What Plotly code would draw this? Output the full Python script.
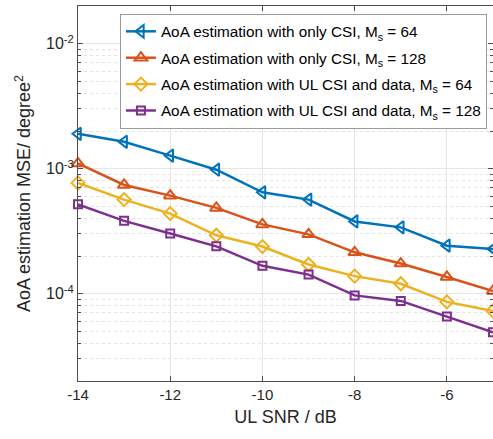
import plotly.graph_objects as go

snr = [-14, -13, -12, -11, -10, -9, -8, -7, -6, -5]
csi_64 = [1.90e-3, 1.64e-3, 1.27e-3, 9.8e-4, 6.46e-4, 5.65e-4, 3.78e-4, 3.39e-4, 2.42e-4, 2.28e-4]
csi_128 = [1.10e-3, 7.4e-4, 6.08e-4, 4.85e-4, 3.58e-4, 2.98e-4, 2.14e-4, 1.74e-4, 1.36e-4, 1.05e-4]
data_64 = [7.69e-4, 5.65e-4, 4.37e-4, 2.93e-4, 2.38e-4, 1.71e-4, 1.38e-4, 1.20e-4, 8.59e-5, 7.27e-5]
data_128 = [5.18e-4, 3.82e-4, 3.03e-4, 2.39e-4, 1.67e-4, 1.42e-4, 9.68e-5, 8.74e-5, 6.55e-5, 4.9e-5]

names = [
    "AoA estimation with only CSI, M<sub>s</sub> = 64",
    "AoA estimation with only CSI, M<sub>s</sub> = 128",
    "AoA estimation with UL CSI and data, M<sub>s</sub> = 64",
    "AoA estimation with UL CSI and data, M<sub>s</sub> = 128",
]
series = [csi_64, csi_128, data_64, data_128]
colors = ["#0072BD", "#D95319", "#EDB120", "#7E2F8E"]
symbols = ["triangle-left-open", "triangle-up-open", "diamond-open", "square-open"]
sizes = [11, 11, 10, 8]

ytickvals = [1e-4, 1e-3, 1e-2]
yticktext = ["10<sup>-4</sup>", "10<sup>-3</sup>", "10<sup>-2</sup>"]
xtickvals = [-14, -12, -10, -8, -6]
xticktext = ["-14", "-12", "-10", "-8", "-6"]

fig = go.Figure()
for i, (name, ys, c, s, sz) in enumerate(zip(names, series, colors, symbols, sizes)):
    fig.add_trace(go.Scatter(
        x=snr, y=ys, name=name, mode="lines+markers",
        legendgroup=f"g{i}",
        line=dict(color=c, width=2.5),
        marker=dict(symbol=s, size=sz, color=c, line=dict(width=2, color=c)),
        cliponaxis=False,
    ))

font = "Liberation Sans, Arial, sans-serif"
fig.update_layout(
    width=493, height=439,
    margin=dict(l=78, r=0, t=6, b=58, autoexpand=False),
    paper_bgcolor="white", plot_bgcolor="white",
    font=dict(family=font, size=14, color="#262626"),
    showlegend=True,
    legend=dict(
        x=0.101, y=0.979, xanchor="left", yanchor="top",
        bgcolor="white", bordercolor="#9a9a9a", borderwidth=1,
        font=dict(family=font, size=15.3, color="#000000"),
        tracegroupgap=3.5, itemwidth=30,
    ),
    xaxis=dict(
        range=[-14, -5], tickvals=xtickvals, ticktext=xticktext,
        automargin=False,
        showgrid=True, gridcolor="#e6e6e6", gridwidth=1,
        showline=True, linecolor="#4d4d4d", linewidth=1, mirror="ticks",
        ticks="inside", ticklen=5, tickcolor="#4d4d4d",
        zeroline=False,
        title=dict(text="UL SNR / dB", font=dict(size=18, family=font, color="#262626"), standoff=8),
        tickfont=dict(size=15, family=font, color="#262626"),
    ),
    yaxis=dict(
        type="log", range=[-4.699, -1.699],
        tickvals=ytickvals, ticktext=yticktext,
        automargin=False,
        showgrid=True, gridcolor="#e6e6e6", gridwidth=1,
        showline=True, linecolor="#4d4d4d", linewidth=1, mirror="ticks",
        ticks="inside", ticklen=5, tickcolor="#4d4d4d",
        zeroline=False,
        minor=dict(ticks="inside", ticklen=3, tickcolor="#4d4d4d",
                   showgrid=True, gridcolor="#e3e3e3", griddash="dot",
                   tickvals=[k * 10**e for e in (-5, -4, -3, -2) for k in range(2, 10)]),
        title=dict(text="AoA estimation MSE/ degree<sup>2</sup>", font=dict(size=18, family=font, color="#262626"), standoff=10),
        tickfont=dict(size=16, family=font, color="#262626"),
    ),
)

fig.write_html("out.html", config={"displayModeBar": False},
               post_script="document.body.style.margin='0';")
